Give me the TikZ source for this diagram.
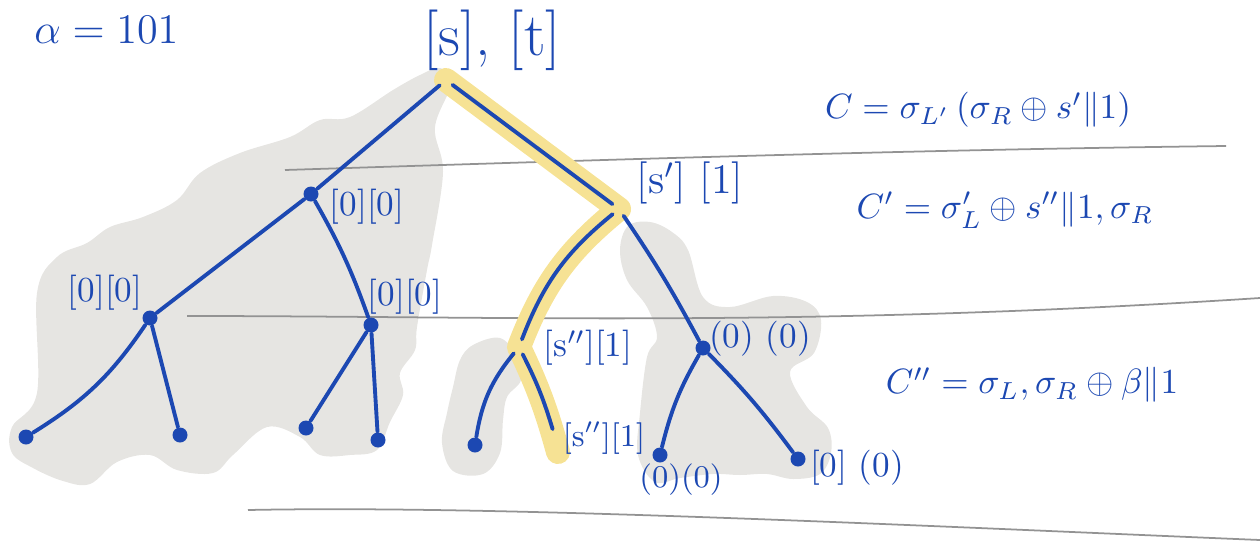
\documentclass[tikz,border=0pt]{standalone}
\usepackage{amssymb,amsmath}
\usepackage{tikz}
\definecolor{stift}{RGB}{28,72,178}
\definecolor{marker}{RGB}{246,226,148}
\definecolor{wolke}{RGB}{230,229,226}
\usetikzlibrary{positioning}

\begin{document}
\begin{tikzpicture}[x=0.1mm, y=-0.1mm,
		punkt/.style={circle, fill=stift, inner sep=0pt, minimum size=1.5mm},
		kante/.style={stift, line width=1.1pt, line cap=round},
		lbl/.style={stift, inner sep=1pt, font=\normalsize},
		formel/.style={stift, inner sep=1pt, font=\normalsize},
		blob/.style={fill=wolke, draw=none},
		spur/.style={marker, line width=2.4mm, line cap=round, line join=round},
		linie/.style={gray!85, line width=.5pt}]
	\useasboundingbox (0,0) rectangle (1260,542);
	%Hintergrund
	\fill[blob] plot[smooth cycle, tension=.6] coordinates {(440,68) (452,82) (435,127) (443,172) (432,245) (427,270) (417,327) (415,350) (400,373) (403,395) (390,422) (377,450) (350,455) (320,455) (300,437) (267,427) (233,455) (213,473) (177,470) (150,455) (117,462) (90,484) (63,481) (33,468) (12,453) (12,427) (37,393) (37,293) (57,257) (87,243) (110,227) (143,217) (177,200) (200,173) (240,153) (290,137) (320,120) (350,117) (393,90) (420,75)};
	\fill[blob] plot[smooth cycle, tension=.6] coordinates {(473,345) (500,338) (517,357) (521,380) (507,397) (503,420) (500,453) (483,474) (453,471) (442,443) (447,413) (453,387) (460,360)};
	\fill[blob] plot[smooth cycle, tension=.6] coordinates {(620,250) (628,226) (650,222) (672,232) (688,250) (703,297) (730,307) (773,296) (807,302) (821,320) (814,353) (790,372) (807,407) (828,428) (831,453) (820,474) (793,479) (767,474) (740,475) (713,474) (680,478) (655,482) (638,455) (640,413) (647,357) (657,337) (647,307) (627,280)};
	% Trennlinien
	\draw[linie] (285,170) .. controls (600,160) and (900,150) .. (1226,146);
	\draw[linie] (187,316) .. controls (500,316) and (800,328) .. (1260,298);
	\draw[linie] (248,510) .. controls (500,505) and (900,525) .. (1260,540);
	% Knoten
	\node[punkt] (r) at (446,80) {};
	\node[punkt] (a) at (311,194) {};
	\node[punkt] (b) at (619,209) {};
	\node[punkt] (aa) at (150,318) {};
	\node[punkt] (ab) at (371,325) {};
	\node[punkt] (ba) at (519,347) {};
	\node[punkt] (bb) at (703,348) {};
	\node[punkt] (aaa) at (26,437) {};
	\node[punkt] (aab) at (180,435) {};
	\node[punkt] (aba) at (306,428) {};
	\node[punkt] (abb) at (378,440) {};
	\node[punkt] (baa) at (475,445) {};
	\node[punkt] (bab) at (555,437) {};
	\node[punkt] (bba) at (660,455) {};
	\node[punkt] (bbb) at (798,459) {};
	\coordinate (ende) at (558,452);
	% markierter Pfad
	\draw[spur] (r.center) -- (b.center) to[bend right=15] (ba.center) to[bend left=5] (ende);
	% Kanten
	\draw[kante] (r) -- (a);
	\draw[kante] (r) -- (b);
	\draw[kante] (a) -- (aa);
	\draw[kante] (a) to[bend left=5] (ab);
	\draw[kante] (aa) to[bend left=12] (aaa);
	\draw[kante] (aa) -- (aab);
	\draw[kante] (ab) -- (aba);
	\draw[kante] (ab) -- (abb);
	\draw[kante] (b) to[bend right=15] (ba);
	\draw[kante] (b) to[bend left=3] (bb);
	\draw[kante] (ba) to[bend right=15] (baa);
	\draw[kante] (ba) to[bend left=5] (bab);
	\draw[kante] (bb) to[bend right=8] (bba);
	\draw[kante] (bb) to[bend left=4] (bbb);
	% Beschriftung
	\node[stift, font=\large, anchor=west] (alpha) at (22,30) {$\alpha=101$};
	\node[stift, font=\LARGE] (lr) at (492,40) {[s], [t]};
	\node[lbl, font=\large] (lb) at (690,183) {[s$'$] [1]};
	\node[lbl] (la) at (367,207) {[0][0]};
	\node[lbl] (laa) at (105,293) {[0][0]};
	\node[lbl] (lab) at (405,297) {[0][0]};
	\node[lbl] (lba) at (588,348) {[s$''$][1]};
	\node[lbl, font=\small] (lbab) at (604,438) {[s$''$][1]};
	\node[lbl] (lbb) at (760,339) {(0) (0)};
	\node[lbl, font=\small] (lbba) at (681,480) {(0)(0)};
	\node[lbl] (lbbb) at (857,468) {[0] (0)};
	\node[formel] (c0) at (978,110) {$C=\sigma_{L'}\,(\sigma_R\oplus s'\|1)$};
	\node[formel] (c1) at (1005,210) {$C'=\sigma'_L\oplus s''\|1, \sigma_R$};
	\node[formel] (c2) at (1032,385) {$C''=\sigma_L, \sigma_R\oplus\beta\|1$};
\end{tikzpicture}
\end{document}
